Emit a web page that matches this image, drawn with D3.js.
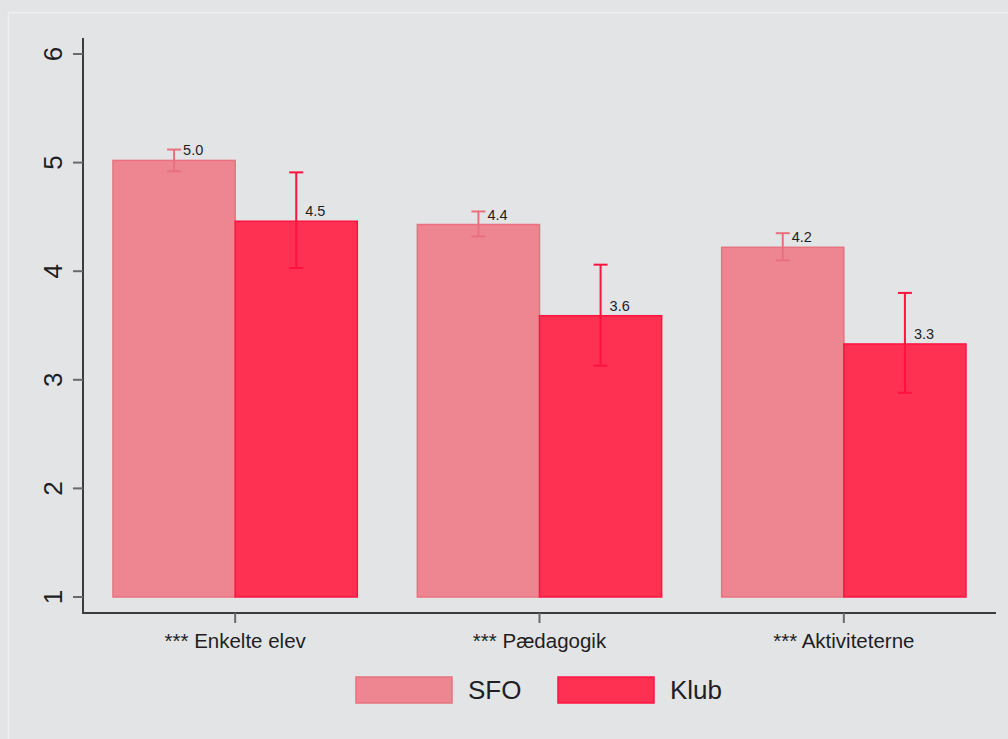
<!DOCTYPE html>
<html>
<head>
<meta charset="utf-8">
<script src="https://cdn.jsdelivr.net/npm/d3@7"></script>
<style>
  html, body { margin: 0; padding: 0; background: #e3e4e6; }
  svg { display: block; font-family: "Liberation Sans", Arial, sans-serif; }
</style>
</head>
<body>
<svg id="chart" width="1008" height="739"></svg>
<script>
// Mean scores per area, with 95% confidence intervals
const categories = ["*** Enkelte elev", "*** Pædagogik", "*** Aktiviteterne"];
const seriesNames = ["SFO", "Klub"];
const sfoMean = [5.02, 4.43, 4.22];
const sfoLow  = [4.92, 4.32, 4.10];
const sfoHigh = [5.12, 4.55, 4.35];
const klubMean = [4.46, 3.59, 3.33];
const klubLow  = [4.03, 3.13, 2.88];
const klubHigh = [4.91, 4.06, 3.80];
const yTicks = [1, 2, 3, 4, 5, 6];

const series = [
  { name: seriesNames[0], mean: sfoMean, low: sfoLow, high: sfoHigh,
    fill: "#ee8691", stroke: "#e8727f", err: "#e8707e" },
  { name: seriesNames[1], mean: klubMean, low: klubLow, high: klubHigh,
    fill: "#ff3153", stroke: "#ff1543", err: "#ff1240" }
];

const svg = d3.select("#chart");
const W = 1008, H = 739;

// outer frame
svg.append("rect").attr("width", W).attr("height", H).attr("fill", "#e3e4e6");
svg.append("line").attr("x1", 8.5).attr("x2", 8.5).attr("y1", 12).attr("y2", H)
  .attr("stroke", "#eeeff1").attr("stroke-width", 1.5);
svg.append("line").attr("x1", 8).attr("x2", W).attr("y1", 12.5).attr("y2", 12.5)
  .attr("stroke", "#eeeff1").attr("stroke-width", 1.5);

const plot = { left: 83, right: 996, top: 38, bottom: 613 };

const x0 = d3.scaleBand().domain(categories)
  .range([plot.left, plot.right]).paddingInner(0).paddingOuter(0);
const x1 = d3.scaleBand().domain(seriesNames)
  .range([30, x0.bandwidth() - 30]).padding(0);
const y = d3.scaleLinear().domain([1, 6]).range([597, 54]);

// bars
series.forEach(s => {
  const g = svg.append("g");
  g.selectAll("rect").data(categories).join("rect")
    .attr("x", (c) => x0(c) + x1(s.name))
    .attr("y", (c, i) => y(s.mean[i]))
    .attr("width", x1.bandwidth())
    .attr("height", (c, i) => y(1) - y(s.mean[i]))
    .attr("fill", s.fill)
    .attr("stroke", s.stroke)
    .attr("stroke-width", 1.5);
});

// error bars and value labels
series.forEach(s => {
  categories.forEach((c, i) => {
    const cx = x0(c) + x1(s.name) + x1.bandwidth() / 2;
    const g = svg.append("g").attr("stroke", s.err).attr("stroke-width", 2);
    g.append("line").attr("x1", cx).attr("x2", cx)
      .attr("y1", y(s.high[i])).attr("y2", y(s.low[i]));
    [s.high[i], s.low[i]].forEach(v => {
      g.append("line").attr("x1", cx - 7).attr("x2", cx + 7)
        .attr("y1", y(v)).attr("y2", y(v));
    });
    svg.append("text")
      .attr("x", cx + 9).attr("y", y(s.mean[i]) - 5)
      .attr("font-size", 14.5).attr("fill", "#1e1e24")
      .text(d3.format(".1f")(s.mean[i]));
  });
});

// y axis
const yAxis = svg.append("g");
yAxis.append("line").attr("x1", plot.left).attr("x2", plot.left)
  .attr("y1", plot.top).attr("y2", plot.bottom + 1)
  .attr("stroke", "#3c3c3c").attr("stroke-width", 2);
yTicks.forEach(t => {
  yAxis.append("line").attr("x1", plot.left - 10).attr("x2", plot.left)
    .attr("y1", y(t)).attr("y2", y(t))
    .attr("stroke", "#6a6a6a").attr("stroke-width", 2);
  yAxis.append("text")
    .attr("transform", `translate(${62},${y(t)}) rotate(-90)`)
    .attr("text-anchor", "middle")
    .attr("font-size", 26).attr("fill", "#1e1e24")
    .text(t);
});

// x axis
const xAxis = svg.append("g");
xAxis.append("line").attr("x1", plot.left).attr("x2", plot.right)
  .attr("y1", plot.bottom).attr("y2", plot.bottom)
  .attr("stroke", "#3c3c3c").attr("stroke-width", 2);
categories.forEach(c => {
  const cx = x0(c) + x0.bandwidth() / 2;
  xAxis.append("line").attr("x1", cx).attr("x2", cx)
    .attr("y1", plot.bottom).attr("y2", plot.bottom + 10)
    .attr("stroke", "#6a6a6a").attr("stroke-width", 2);
  xAxis.append("text").attr("x", cx).attr("y", 648)
    .attr("text-anchor", "middle").attr("font-size", 20.5).attr("fill", "#1e1e24")
    .text(c);
});

// legend
const legendX = [356, 558];
series.forEach((s, i) => {
  svg.append("rect").attr("x", legendX[i]).attr("y", 677)
    .attr("width", 96).attr("height", 26)
    .attr("fill", s.fill).attr("stroke", s.stroke).attr("stroke-width", 1.5);
  svg.append("text").attr("x", legendX[i] + 112).attr("y", 699)
    .attr("font-size", 26).attr("fill", "#1e1e24")
    .text(s.name);
});
</script>
</body>
</html>
